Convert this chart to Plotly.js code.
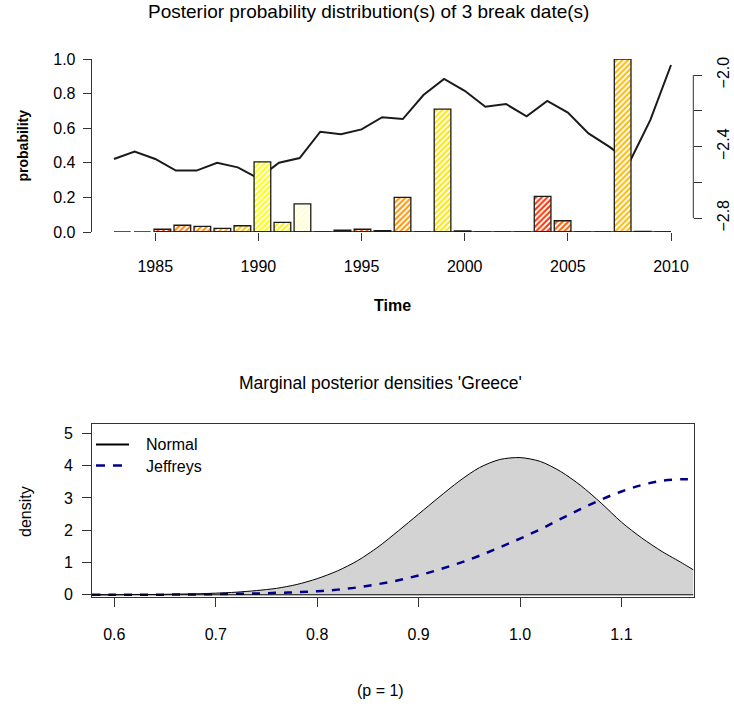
<!DOCTYPE html>
<html><head><meta charset="utf-8">
<script src="https://cdn.plot.ly/plotly-3.0.1.min.js"></script>
<style>html,body{margin:0;padding:0;background:#fff}#chart{width:734px;height:708px}</style>
</head><body><div id="chart"></div>
<script>
// ---- top panel data ----
const years = [1983,1984,1985,1986,1987,1988,1989,1990,1991,1992,1993,1994,1995,1996,1997,1998,1999,2000,2001,2002,2003,2004,2005,2006,2007,2008,2009,2010];
const yearLabels = years.map(String);
const breakProb = [0,0,0.016,0.039,0.033,0.021,0.036,0.405,0.056,0.162,0,0.010,0.016,0.008,0.200,0,0.710,0.007,0,0,0,0.206,0.065,0,0,1.0,0.003,0];
const barColors = ['#FF2000','#FF2000','#FF4500','#FF8000','#FF8A00','#FFAA00','#FFC400','#FFFF00','#FFF200','#FFFFC8','#FF2000','#FF6000','#FF6000','#FF6000','#FF9400','#FF2000','#FFE400','#FFE800','#FF2000','#FF2000','#FF2000','#FF3000','#FF5A00','#FF2000','#FF2000','#FFB800','#FFC000','#FF2000'];
const criterion = [-2.469,-2.428,-2.469,-2.534,-2.534,-2.490,-2.516,-2.577,-2.490,-2.464,-2.317,-2.331,-2.304,-2.236,-2.246,-2.112,-2.022,-2.088,-2.177,-2.162,-2.231,-2.145,-2.210,-2.326,-2.400,-2.484,-2.251,-1.944];
const xTicksTop = [1985,1990,1995,2000,2005,2010];
const probTicks = [0,0.2,0.4,0.6,0.8,1.0];
const rightTicks = [-2.8,-2.6,-2.4,-2.2,-2.0];
const rightTickText = ['\u22122.8','','\u22122.4','','\u22122.0'];

// ---- bottom panel data ----
const pGrid = [0.578,0.60,0.62,0.64,0.66,0.68,0.70,0.72,0.74,0.76,0.78,0.80,0.82,0.84,0.86,0.88,0.90,0.92,0.94,0.96,0.98,1.00,1.02,1.04,1.06,1.08,1.10,1.12,1.14,1.16,1.171];
const normalDens = [0.00,0.00,0.01,0.01,0.02,0.03,0.05,0.08,0.13,0.20,0.32,0.50,0.74,1.06,1.48,1.98,2.50,3.02,3.52,3.94,4.19,4.25,4.13,3.82,3.38,2.84,2.25,1.76,1.34,0.98,0.77];
const jeffreysDens = [0.00,0.00,0.00,0.00,0.01,0.01,0.02,0.03,0.04,0.06,0.08,0.11,0.16,0.23,0.33,0.45,0.60,0.78,0.98,1.21,1.47,1.74,2.03,2.35,2.66,2.95,3.20,3.40,3.53,3.58,3.58];
const xTicksBottom = [0.6,0.7,0.8,0.9,1.0,1.1];
const densTicks = [0,1,2,3,4,5];
const legendNames = ['Normal','Jeffreys'];

const W = 734, H = 708;
const px = v => v / W, py = v => 1 - v / H;
const FONT = 'Liberation Sans, Arial, Helvetica, sans-serif';
const AX = '#333';
const FS = 16;
const BLUE = '#00008B';

const traces = [
  {type:'bar', x: yearLabels, y: breakProb, xaxis:'x2', yaxis:'y', showlegend:false, hoverinfo:'x+y',
   marker:{color:'white', line:{color:'#1a1a1a', width:1.3},
     pattern:{shape:'/', fillmode:'replace', bgcolor:'white', fgcolor: barColors, size:4, solidity:0.5}}},
  {type:'scatter', mode:'lines', x: years, y: criterion, xaxis:'x', yaxis:'y2', showlegend:false,
   line:{color:'#1a1a1a', width:2}},
  {type:'scatter', mode:'lines', x: pGrid, y: normalDens, xaxis:'x3', yaxis:'y3', name:legendNames[0], showlegend:false,
   fill:'tozeroy', fillcolor:'#D3D3D3', line:{color:'#000', width:1, shape:'spline', smoothing:0.8}},
  {type:'scatter', mode:'lines', x: pGrid, y: jeffreysDens, xaxis:'x3', yaxis:'y3', name:legendNames[1], showlegend:false,
   line:{color:BLUE, width:2.5, dash:'8px,8px', shape:'spline'}}
];

const tickBase = {ticks:'outside', tickcolor:AX, tickwidth:1, showgrid:false, zeroline:false,
  tickfont:{family:FONT, size:FS, color:'#000'}};

const layout = {
  width:W, height:H, margin:{l:0,r:0,t:0,b:0}, paper_bgcolor:'#fff', plot_bgcolor:'rgba(0,0,0,0)',
  font:{family:FONT, size:FS, color:'#000'},
  bargap:1/6, showlegend:false,
  xaxis: Object.assign({}, tickBase, {domain:[px(91.7), px(693.3)], anchor:'y', range:[1981.92, 2011.08],
    tickvals:xTicksTop, ticklen:8, showline:false, ticklabelstandoff:12}),
  xaxis2: {overlaying:'x', anchor:'y', type:'category', range:[-1.53, 28.53], visible:false, showgrid:false},
  yaxis: Object.assign({}, tickBase, {domain:[py(232), py(59)], anchor:'x', range:[0,1],
    tickvals:probTicks, tickformat:'.1f', ticklen:8, showline:true, linecolor:AX, linewidth:1, ticklabelstandoff:4}),
  yaxis2: Object.assign({}, tickBase, {overlaying:'y', side:'right', anchor:'x', range:[-2.877, -1.9106],
    tickvals:rightTicks, ticktext:rightTickText, tickangle:-90, ticklen:8, showline:false, ticklabelstandoff:7}),
  xaxis3: Object.assign({}, tickBase, {domain:[px(92), px(693.5)], anchor:'y3', range:[0.578, 1.171],
    tickvals:xTicksBottom, tickformat:'.1f', ticklen:9, showline:true, mirror:true, linecolor:AX, linewidth:1, ticklabelstandoff:14}),
  yaxis3: Object.assign({}, tickBase, {domain:[py(596.5), py(424)], anchor:'x3', range:[-0.053, 5.29],
    tickvals:densTicks, ticklen:9, showline:true, mirror:true, linecolor:AX, linewidth:1, ticklabelstandoff:6}),
  shapes:[
    {type:'line', xref:'x', yref:'y', x0:xTicksTop[0], x1:xTicksTop[xTicksTop.length-1], y0:0, y1:0, line:{color:'#1a1a1a', width:1.3}},
    {type:'line', xref:'paper', yref:'y2', x0:px(693.3), x1:px(693.3), y0:rightTicks[0], y1:rightTicks[rightTicks.length-1], line:{color:AX, width:1}},
    {type:'line', xref:'x3', yref:'y3', x0:pGrid[0], x1:pGrid[pGrid.length-1], y0:0, y1:0, line:{color:'#000', width:1}},
    // legend keys
    {type:'line', xref:'paper', yref:'paper', x0:px(96), x1:px(129), y0:py(444.5), y1:py(444.5), line:{color:'#000', width:2}},
    {type:'line', xref:'paper', yref:'paper', x0:px(96), x1:px(122), y0:py(465.5), y1:py(465.5), line:{color:BLUE, width:2.5, dash:'9px,8px'}}
  ],
  annotations:[
    {text:'Posterior probability distribution(s) of 3 break date(s)', xref:'paper', yref:'paper', x:px(368), y:py(12), showarrow:false, xanchor:'center', yanchor:'middle', font:{size:19}},
    {text:'<b>probability</b>', xref:'paper', yref:'paper', x:px(22), y:py(145.5), showarrow:false, textangle:-90, xanchor:'center', yanchor:'middle', font:{size:14}},
    {text:'<b>Time</b>', xref:'paper', yref:'paper', x:px(392), y:py(305), showarrow:false, xanchor:'center', yanchor:'middle', font:{size:FS}},
    {text:"Marginal posterior densities 'Greece'", xref:'paper', yref:'paper', x:px(381), y:py(383), showarrow:false, xanchor:'center', yanchor:'middle', font:{size:17.5}},
    {text:'density', xref:'paper', yref:'paper', x:px(25), y:py(512), showarrow:false, textangle:-90, xanchor:'center', yanchor:'middle', font:{size:FS}},
    {text:'(p = 1)', xref:'paper', yref:'paper', x:px(380), y:py(690), showarrow:false, xanchor:'center', yanchor:'middle', font:{size:FS}},
    {text:legendNames[0], xref:'paper', yref:'paper', x:px(144), y:py(445), showarrow:false, xanchor:'left', yanchor:'middle', font:{size:FS}},
    {text:legendNames[1], xref:'paper', yref:'paper', x:px(144), y:py(466), showarrow:false, xanchor:'left', yanchor:'middle', font:{size:FS}}
  ]
};

Plotly.newPlot('chart', traces, layout, {staticPlot:true, displayModeBar:false});
</script>
</body></html>
